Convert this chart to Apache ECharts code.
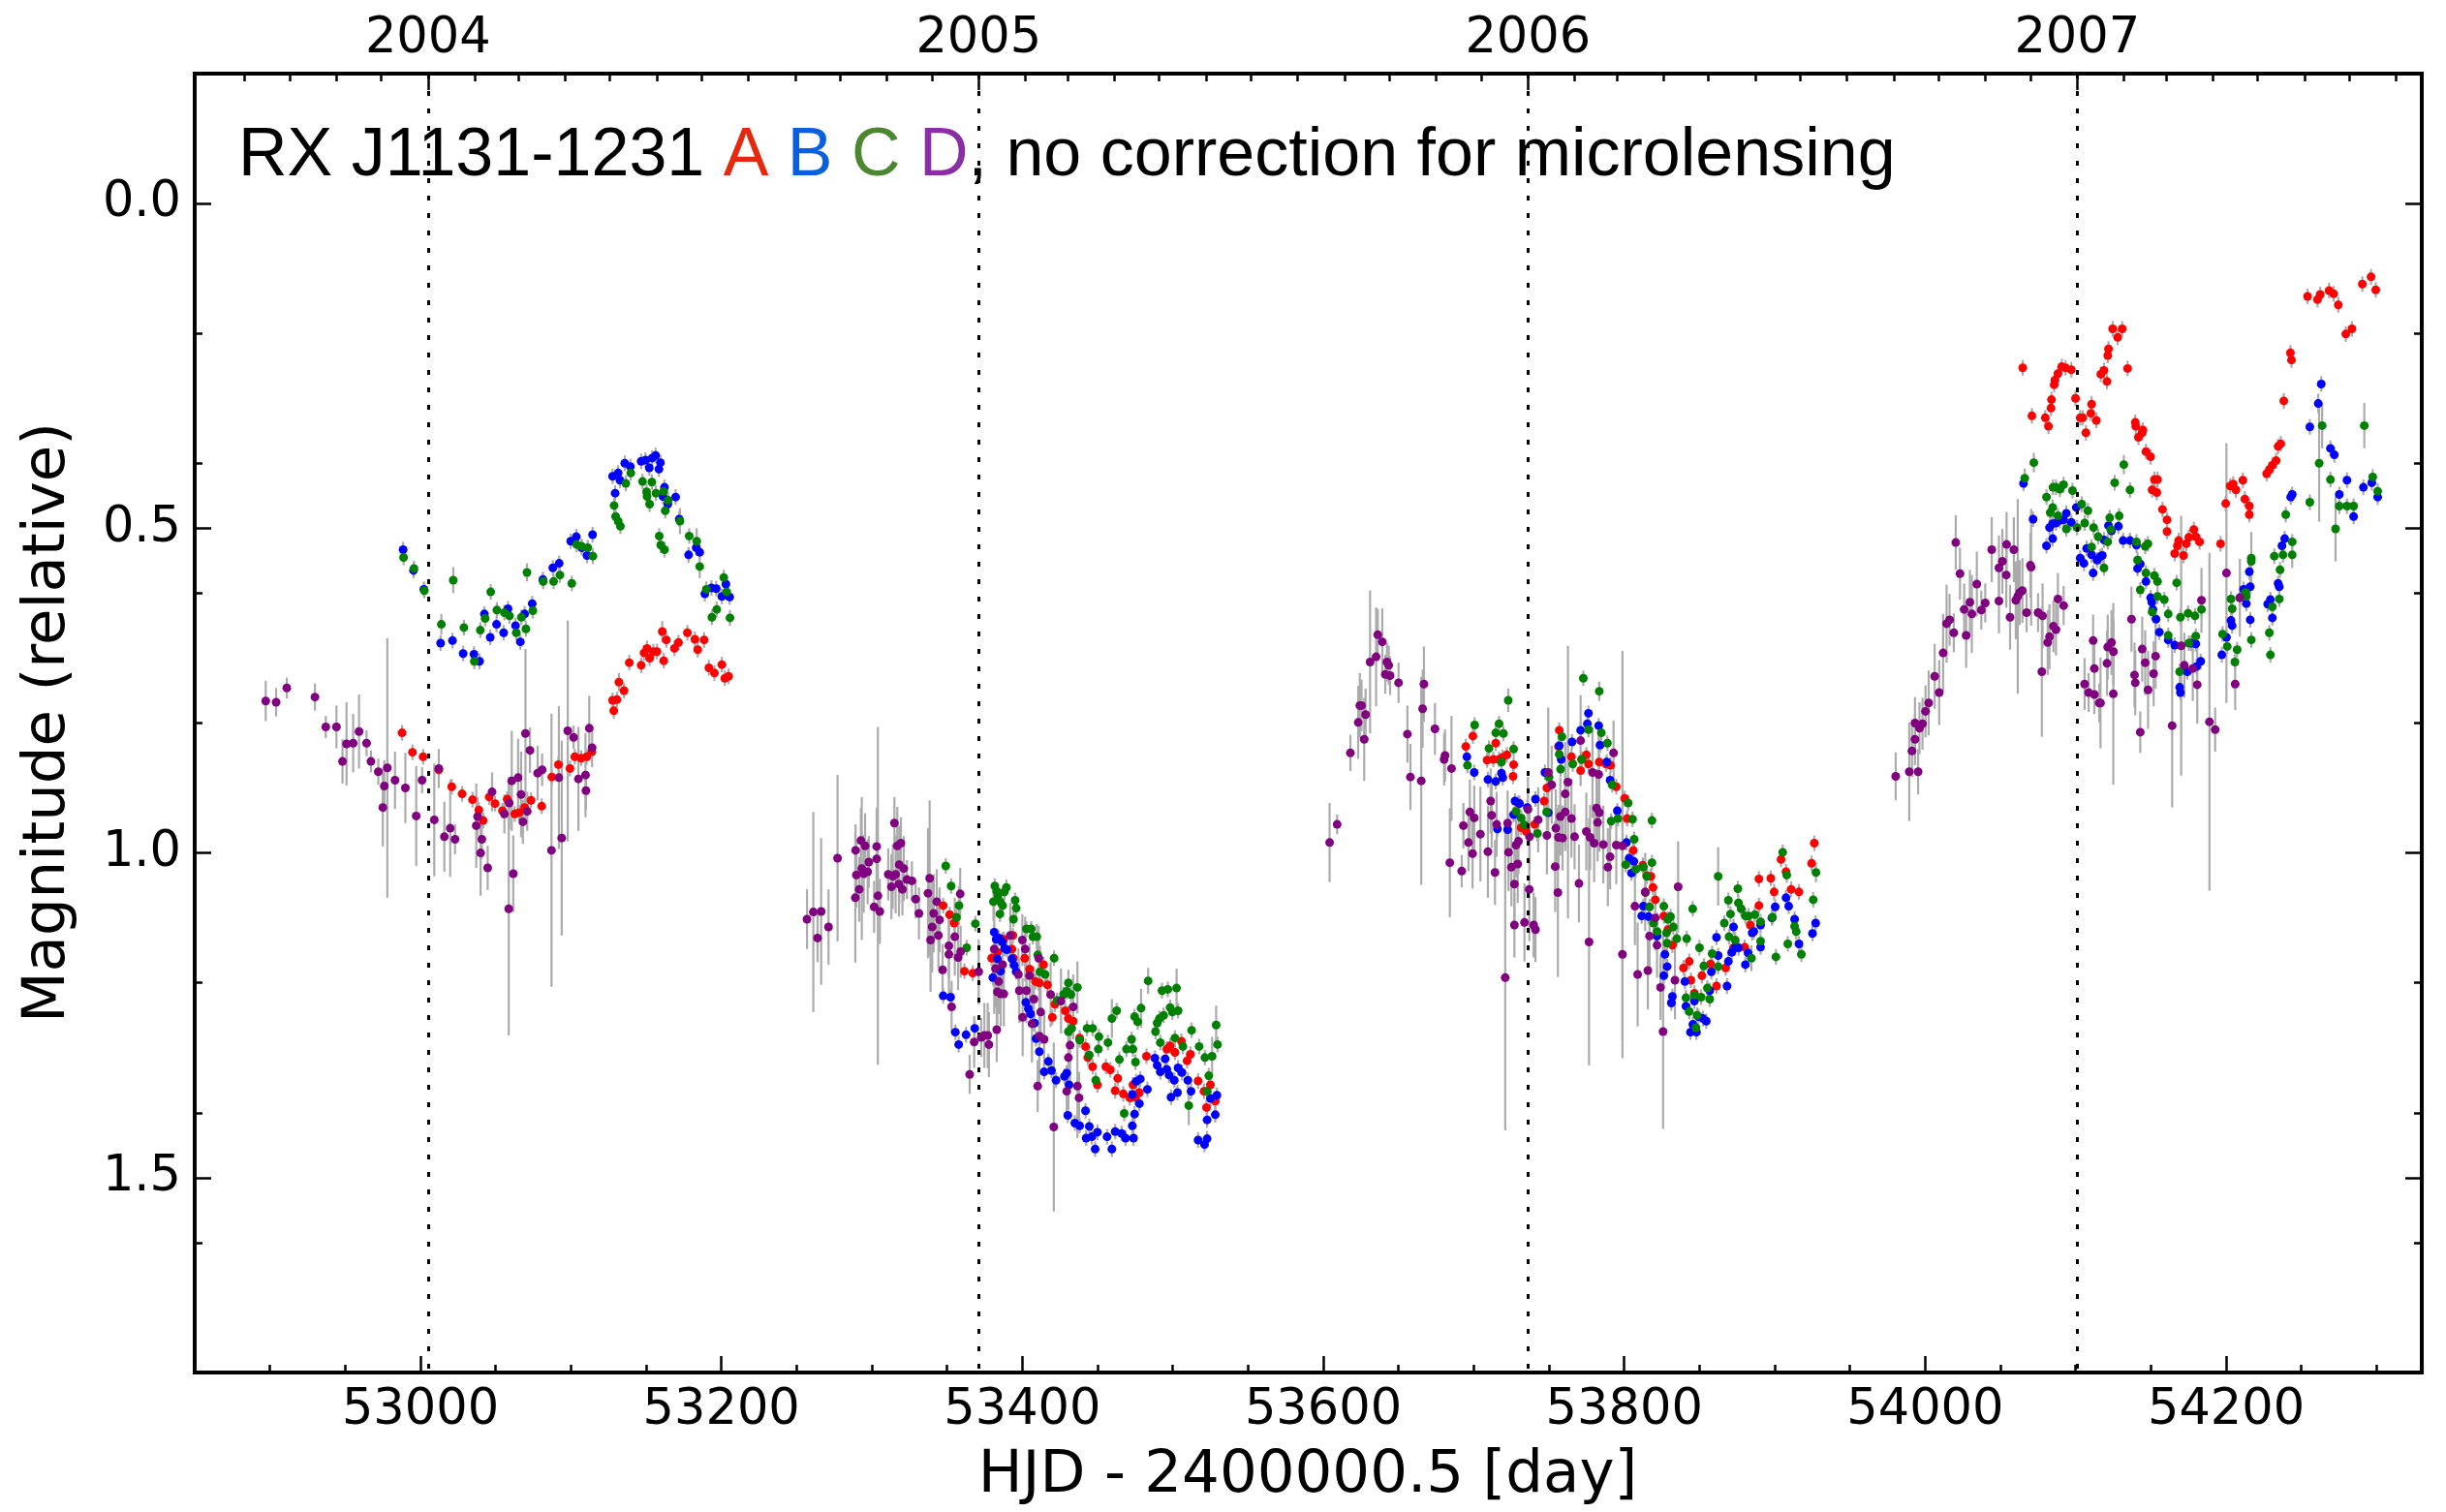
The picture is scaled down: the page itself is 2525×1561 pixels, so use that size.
<!DOCTYPE html>
<html>
<head>
<meta charset="utf-8">
<script src="https://cdn.jsdelivr.net/npm/echarts@6/dist/echarts.min.js"></script>
<style>
  html, body { margin: 0; padding: 0; background: #fff; }
  #chart { width: 2525px; height: 1561px; }
</style>
</head>
<body>
<div id="chart"></div>
<script>
// Light curves of the four quasar images: [HJD - 2400000.5, magnitude, 1-sigma error]
const curveA = [
  [52987.8,0.815,0.012],[52994.7,0.845,0.012],[53001.8,0.852,0.012],[53012.2,0.872,0.012],[53020.8,0.898,0.012],
  [53027.7,0.909,0.012],[53034.6,0.918,0.012],[53038.8,0.934,0.012],[53041.7,0.950,0.012],[53045.7,0.914,0.012],
  [53049.6,0.924,0.012],[53054.5,0.935,0.012],[53057.7,0.917,0.012],[53062.7,0.940,0.012],[53065.6,0.938,0.012],
  [53069.3,0.930,0.012],[53073.5,0.919,0.012],[53080.6,0.928,0.012],[53087.3,0.883,0.012],[53091.7,0.864,0.012],
  [53099.4,0.870,0.012],[53102.6,0.852,0.012],[53106.8,0.854,0.012],[53110.5,0.852,0.012],[53113.9,0.844,0.012],
  [53127.7,0.765,0.012],[53128.5,0.781,0.012],[53130.6,0.764,0.012],[53131.9,0.737,0.014],[53135.3,0.750,0.012],
  [53138.8,0.707,0.012],[53146.7,0.711,0.012],[53148.6,0.692,0.012],[53150.6,0.685,0.012],[53152.3,0.700,0.012],
  [53154.8,0.690,0.012],[53157.2,0.690,0.012],[53160.7,0.659,0.016],[53161.7,0.704,0.012],[53163.4,0.672,0.012],
  [53168.8,0.685,0.012],[53171.5,0.676,0.012],[53177.4,0.661,0.012],[53182.4,0.671,0.012],[53184.3,0.687,0.012],
  [53188.5,0.672,0.012],[53191.7,0.715,0.012],[53195.4,0.723,0.012],[53200.3,0.710,0.012],[53202.3,0.731,0.012],
  [53204.8,0.728,0.012],
  [53347.4,1.081,0.012],[53351.7,1.095,0.012],[53354.7,1.108,0.012],[53361.5,1.182,0.012],[53367.1,1.185,0.012],
  [53379.6,1.162,0.012],[53383.4,1.153,0.012],[53387.7,1.133,0.012],[53393.7,1.127,0.012],[53393.1,1.148,0.012],
  [53394.1,1.162,0.012],[53401.6,1.162,0.012],[53404.8,1.179,0.012],[53408.7,1.198,0.012],[53411.3,1.200,0.012],
  [53414.1,1.172,0.012],[53416.7,1.203,0.012],[53419.9,1.253,0.012],[53421.6,1.233,0.012],[53428.5,1.243,0.012],
  [53430.6,1.255,0.012],[53433.8,1.259,0.012],[53438.1,1.285,0.012],[53442.0,1.298,0.012],[53443.5,1.315,0.012],
  [53446.7,1.329,0.012],[53449.9,1.357,0.012],[53455.5,1.329,0.012],[53458.5,1.334,0.012],[53461.7,1.366,0.012],
  [53463.4,1.347,0.012],[53467.1,1.371,0.012],[53471.4,1.377,0.012],[53473.5,1.357,0.012],[53475.2,1.376,0.012],
  [53477.8,1.369,0.012],[53482.5,1.313,0.012],[53496.0,1.302,0.012],[53498.2,1.297,0.012],[53501.4,1.307,0.012],
  [53505.7,1.290,0.012],[53509.5,1.320,0.012],[53511.7,1.310,0.012],[53516.8,1.351,0.012],[53520.7,1.367,0.012],
  [53522.4,1.392,0.012],[53525.0,1.357,0.012],[53528.2,1.382,0.012],
  [53694.7,0.836,0.012],[53699.4,0.820,0.012],[53708.9,0.857,0.012],[53713.0,0.856,0.012],[53714.6,0.831,0.012],
  [53716.8,0.856,0.012],[53719.1,0.853,0.012],[53722.0,0.849,0.012],[53726.5,0.864,0.012],[53726.1,0.882,0.012],
  [53729.7,0.923,0.012],[53731.5,0.961,0.012],[53734.9,0.967,0.012],[53740.5,0.956,0.012],[53746.8,0.920,0.012],
  [53748.6,0.900,0.012],[53756.8,0.811,0.012],[53756.3,0.836,0.012],[53764.9,0.852,0.012],[53771.0,0.873,0.012],
  [53771.7,0.856,0.012],[53774.8,0.849,0.012],[53776.2,0.863,0.012],[53783.4,0.860,0.012],[53787.9,0.863,0.012],
  [53790.9,0.865,0.012],[53794.7,0.898,0.012],[53800.3,0.916,0.012],[53801.9,0.947,0.012],[53806.0,0.996,0.012],
  [53812.3,1.019,0.012],[53815.0,1.035,0.012],[53817.7,1.036,0.012],[53819.1,1.053,0.012],[53820.6,1.072,0.012],
  [53826.3,1.097,0.012],[53829.0,1.118,0.012],[53832.0,1.142,0.012],[53839.4,1.177,0.012],[53843.2,1.167,0.012],
  [53844.3,1.196,0.012],[53846.6,1.216,0.012],[53851.6,1.189,0.012],[53857.4,1.171,0.012],[53861.3,1.205,0.012],
  [53867.4,1.177,0.012],[53872.6,1.146,0.012],[53880.0,1.145,0.012],[53883.8,1.111,0.012],[53889.5,1.081,0.012],
  [53889.5,1.040,0.012],[53897.4,1.039,0.012],[53899.6,1.060,0.012],[53904.2,1.010,0.012],[53907.5,1.029,0.012],
  [53910.9,1.056,0.012],[53916.1,1.060,0.012],[53924.5,1.016,0.012],[53926.3,0.985,0.012],
  [54064.8,0.253,0.012],[54070.9,0.327,0.012],[54079.8,0.330,0.012],[54081.9,0.343,0.012],[54083.6,0.315,0.012],
  [54083.9,0.302,0.012],[54085.7,0.279,0.012],[54086.2,0.272,0.012],[54088.2,0.262,0.012],[54090.8,0.251,0.012],
  [54093.3,0.253,0.012],[54097.1,0.256,0.012],[54099.9,0.300,0.012],[54103.0,0.330,0.012],[54104.7,0.330,0.012],
  [54106.8,0.353,0.012],[54110.1,0.323,0.012],[54110.6,0.309,0.012],[54113.7,0.334,0.012],[54116.7,0.263,0.012],
  [54118.8,0.257,0.012],[54120.8,0.274,0.012],[54121.3,0.234,0.012],[54121.8,0.224,0.012],[54124.6,0.193,0.012],
  [54127.9,0.206,0.012],[54130.9,0.193,0.012],[54134.5,0.254,0.012],[54139.6,0.337,0.012],[54139.9,0.343,0.012],
  [54141.7,0.360,0.012],[54144.2,0.353,0.012],[54144.7,0.349,0.012],[54146.7,0.382,0.012],[54149.8,0.390,0.012],
  [54152.3,0.425,0.012],[54154.4,0.425,0.012],[54150.8,0.441,0.012],[54153.9,0.445,0.012],[54157.7,0.471,0.012],
  [54160.7,0.487,0.012],[54160.7,0.505,0.012],[54165.8,0.539,0.012],[54167.6,0.527,0.012],[54168.4,0.519,0.012],
  [54171.7,0.542,0.012],[54173.5,0.524,0.012],[54175.2,0.514,0.012],[54178.5,0.502,0.012],[54179.8,0.513,0.012],
  [54182.4,0.521,0.012],[54196.3,0.524,0.012],[54199.7,0.462,0.012],[54202.7,0.435,0.012],[54204.7,0.432,0.012],
  [54206.5,0.441,0.012],[54211.1,0.426,0.012],[54212.4,0.455,0.012],[54215.4,0.466,0.012],[54215.4,0.479,0.012],
  [54226.9,0.416,0.012],[54228.7,0.410,0.012],[54230.7,0.403,0.012],[54233.2,0.396,0.012],[54234.5,0.374,0.012],
  [54236.3,0.370,0.012],[54238.3,0.304,0.012],[54242.7,0.230,0.012],[54243.4,0.241,0.012],[54254.1,0.143,0.012],
  [54260.7,0.148,0.012],[54262.5,0.140,0.012],[54268.4,0.134,0.012],[54271.4,0.139,0.012],[54274.5,0.156,0.012],
  [54279.5,0.201,0.012],[54283.6,0.193,0.012],[54290.5,0.124,0.012],[54296.3,0.113,0.012],[54299.4,0.133,0.012]
];

const curveB = [
  [52988.5,0.533,0.012],[52995.4,0.565,0.012],[53002.3,0.594,0.012],[53013.4,0.677,0.012],[53021.3,0.673,0.012],
  [53028.4,0.693,0.012],[53035.6,0.694,0.012],[53039.3,0.705,0.012],[53042.5,0.632,0.012],[53046.4,0.668,0.012],
  [53050.6,0.648,0.012],[53055.3,0.661,0.012],[53058.2,0.624,0.012],[53063.2,0.650,0.012],[53066.4,0.675,0.012],
  [53069.3,0.632,0.012],[53074.3,0.616,0.012],[53081.4,0.579,0.012],[53088.0,0.561,0.012],[53092.2,0.554,0.012],
  [53099.9,0.520,0.012],[53103.6,0.513,0.012],[53107.2,0.530,0.012],[53110.7,0.542,0.012],[53114.4,0.510,0.012],
  [53127.7,0.420,0.012],[53129.4,0.446,0.012],[53131.4,0.415,0.012],[53132.6,0.426,0.012],[53135.8,0.400,0.012],
  [53139.5,0.405,0.012],[53146.7,0.397,0.012],[53149.6,0.395,0.012],[53152.1,0.407,0.012],[53154.0,0.392,0.012],
  [53156.3,0.388,0.012],[53158.5,0.409,0.012],[53159.5,0.399,0.012],[53161.2,0.451,0.012],[53162.2,0.437,0.012],
  [53164.4,0.463,0.012],[53169.6,0.452,0.012],[53172.0,0.486,0.012],[53178.2,0.541,0.012],[53183.3,0.530,0.012],
  [53185.6,0.537,0.012],[53189.0,0.601,0.012],[53193.4,0.592,0.012],[53196.6,0.593,0.012],[53200.3,0.605,0.012],
  [53203.0,0.586,0.012],[53205.5,0.606,0.012],
  [53347.4,1.220,0.012],[53352.3,1.222,0.012],[53355.5,1.276,0.012],[53357.7,1.295,0.012],[53362.6,1.280,0.012],
  [53368.4,1.270,0.012],[53380.4,1.192,0.012],[53381.3,1.122,0.012],[53382.6,1.133,0.012],[53383.4,1.163,0.012],
  [53384.5,1.131,0.012],[53385.6,1.182,0.012],[53386.7,1.137,0.012],[53388.2,1.147,0.012],[53389.8,1.149,0.012],
  [53393.1,1.163,0.012],[53394.6,1.173,0.012],[53395.9,1.183,0.012],[53402.3,1.230,0.012],[53404.0,1.240,0.012],
  [53405.5,1.248,0.012],[53408.1,1.262,0.012],[53409.1,1.286,0.012],[53411.3,1.306,0.012],[53414.5,1.337,0.012],
  [53417.3,1.321,0.012],[53419.4,1.335,0.012],[53422.4,1.350,0.012],[53428.0,1.344,0.012],[53429.5,1.339,0.012],
  [53430.2,1.404,0.012],[53431.0,1.357,0.012],[53434.9,1.416,0.012],[53438.1,1.420,0.012],[53442.0,1.397,0.012],
  [53442.4,1.439,0.012],[53444.5,1.421,0.012],[53446.2,1.437,0.012],[53448.4,1.456,0.012],[53449.9,1.430,0.012],
  [53456.3,1.437,0.012],[53459.5,1.456,0.012],[53461.7,1.429,0.012],[53466.0,1.432,0.012],[53468.6,1.439,0.012],
  [53473.1,1.420,0.012],[53473.9,1.439,0.012],[53474.6,1.402,0.012],[53473.1,1.372,0.012],[53475.6,1.352,0.012],
  [53478.4,1.348,0.012],[53477.8,1.386,0.012],[53483.1,1.364,0.012],[53488.1,1.316,0.012],[53489.6,1.327,0.012],
  [53491.7,1.337,0.012],[53494.9,1.317,0.012],[53496.0,1.333,0.012],[53497.5,1.342,0.012],[53498.8,1.376,0.012],
  [53501.0,1.350,0.012],[53503.1,1.369,0.012],[53503.5,1.331,0.012],[53506.1,1.338,0.012],[53510.0,1.350,0.012],
  [53512.1,1.367,0.012],[53516.8,1.442,0.012],[53521.1,1.449,0.012],[53522.8,1.440,0.012],[53522.8,1.411,0.012],
  [53525.0,1.378,0.012],[53528.2,1.403,0.012],[53529.3,1.373,0.012],
  [53695.4,0.852,0.012],[53700.3,0.876,0.012],[53709.4,0.887,0.012],[53714.6,0.890,0.012],[53718.4,0.877,0.012],
  [53719.3,0.884,0.012],[53715.7,0.963,0.012],[53722.5,0.964,0.012],[53727.4,0.920,0.012],[53726.5,0.941,0.012],
  [53730.4,0.924,0.012],[53735.6,0.930,0.012],[53741.0,0.917,0.012],[53747.3,0.876,0.012],[53749.5,0.938,0.012],
  [53756.8,0.835,0.012],[53758.1,0.856,0.012],[53765.3,0.829,0.012],[53771.0,0.811,0.012],[53775.5,0.801,0.012],
  [53776.2,0.785,0.012],[53783.0,0.804,0.012],[53783.9,0.834,0.012],[53788.4,0.860,0.012],[53790.6,0.888,0.012],
  [53795.4,0.935,0.012],[53801.5,0.984,0.012],[53803.3,1.008,0.012],[53806.4,1.013,0.012],[53804.8,1.031,0.012],
  [53812.7,1.082,0.012],[53811.6,1.097,0.012],[53816.1,1.098,0.012],[53821.8,1.128,0.012],[53827.0,1.156,0.012],
  [53828.5,1.175,0.012],[53826.3,1.189,0.012],[53832.0,1.221,0.012],[53831.3,1.231,0.012],[53840.3,1.198,0.012],
  [53841.0,1.236,0.012],[53845.6,1.264,0.012],[53844.0,1.276,0.012],[53848.0,1.276,0.012],[53846.6,1.228,0.012],
  [53849.3,1.252,0.012],[53852.3,1.255,0.012],[53854.5,1.259,0.012],[53856.8,1.212,0.012],[53857.9,1.183,0.012],
  [53861.3,1.130,0.012],[53862.4,1.158,0.012],[53868.3,1.205,0.012],[53869.2,1.167,0.012],[53871.4,1.153,0.012],
  [53873.7,1.146,0.012],[53872.6,1.114,0.012],[53876.0,1.146,0.012],[53880.5,1.172,0.012],[53882.3,1.154,0.012],
  [53885.0,1.123,0.012],[53886.1,1.121,0.012],[53890.6,1.111,0.012],[53890.6,1.145,0.012],[53898.1,1.100,0.012],
  [53900.3,1.083,0.012],[53907.5,1.069,0.012],[53909.3,1.082,0.012],[53913.2,1.102,0.012],[53916.1,1.140,0.012],
  [53925.1,1.124,0.012],[53927.2,1.108,0.012],
  [54065.3,0.431,0.012],[54071.7,0.486,0.012],[54080.6,0.527,0.012],[54082.6,0.499,0.012],[54084.7,0.516,0.012],
  [54084.7,0.493,0.012],[54086.9,0.492,0.012],[54089.5,0.488,0.012],[54092.0,0.487,0.012],[54093.8,0.477,0.012],
  [54097.1,0.491,0.012],[54100.4,0.468,0.012],[54103.0,0.546,0.012],[54105.5,0.554,0.012],[54107.3,0.531,0.012],
  [54110.6,0.541,0.012],[54111.6,0.569,0.012],[54114.2,0.549,0.012],[54116.2,0.544,0.012],[54117.7,0.542,0.012],
  [54118.8,0.518,0.012],[54121.8,0.496,0.012],[54123.8,0.504,0.012],[54128.4,0.497,0.012],[54131.5,0.519,0.012],
  [54136.1,0.519,0.012],[54140.4,0.526,0.012],[54141.1,0.562,0.012],[54142.9,0.555,0.012],[54146.7,0.582,0.012],
  [54149.8,0.607,0.012],[54150.6,0.614,0.012],[54151.3,0.625,0.012],[54153.4,0.640,0.012],[54155.6,0.660,0.012],
  [54161.5,0.672,0.012],[54165.8,0.680,0.012],[54169.1,0.745,0.012],[54169.6,0.753,0.012],[54174.2,0.721,0.012],
  [54176.7,0.677,0.012],[54179.8,0.678,0.012],[54180.3,0.713,0.012],[54183.1,0.705,0.012],[54197.1,0.695,0.012],
  [54200.2,0.668,0.012],[54203.2,0.642,0.012],[54204.0,0.650,0.012],[54209.1,0.607,0.012],[54211.6,0.594,0.012],
  [54213.4,0.616,0.012],[54215.4,0.567,0.012],[54216.0,0.590,0.012],[54216.0,0.641,0.012],[54227.6,0.617,0.012],
  [54229.4,0.610,0.012],[54230.7,0.638,0.012],[54234.5,0.585,0.012],[54235.3,0.590,0.012],[54237.1,0.527,0.012],
  [54238.9,0.516,0.012],[54242.9,0.452,0.012],[54243.9,0.448,0.012],[54255.6,0.344,0.012],[54261.2,0.308,0.015],
  [54263.2,0.278,0.012],[54269.3,0.377,0.012],[54271.9,0.387,0.012],[54275.2,0.448,0.012],[54280.3,0.426,0.012],
  [54284.7,0.482,0.012],[54291.2,0.437,0.012],[54296.8,0.430,0.012],[54300.7,0.452,0.012]
];

const curveC = [
  [52988.8,0.545,0.012],[52995.7,0.562,0.012],[53002.6,0.596,0.012],[53013.9,0.648,0.016],[53021.8,0.580,0.020],
  [53028.9,0.653,0.012],[53035.8,0.705,0.012],[53039.8,0.657,0.012],[53043.0,0.639,0.012],[53046.7,0.598,0.012],
  [53050.8,0.626,0.012],[53055.8,0.630,0.012],[53059.2,0.635,0.012],[53063.7,0.661,0.012],[53067.1,0.637,0.012],
  [53070.1,0.655,0.012],[53070.8,0.568,0.014],[53074.7,0.627,0.012],[53081.6,0.582,0.012],[53088.5,0.582,0.012],
  [53092.7,0.572,0.012],[53100.6,0.585,0.012],[53103.8,0.525,0.012],[53107.2,0.528,0.012],[53111.2,0.530,0.012],
  [53114.6,0.543,0.012],[53128.7,0.465,0.012],[53129.7,0.482,0.012],[53131.4,0.489,0.012],[53132.9,0.497,0.012],
  [53136.5,0.431,0.012],[53139.8,0.415,0.012],[53147.6,0.428,0.012],[53150.3,0.444,0.012],[53150.6,0.451,0.012],
  [53152.3,0.463,0.012],[53153.8,0.429,0.012],[53156.5,0.446,0.012],[53158.7,0.512,0.012],[53159.7,0.526,0.012],
  [53161.7,0.443,0.012],[53162.2,0.533,0.012],[53162.7,0.473,0.012],[53164.6,0.457,0.012],[53172.5,0.489,0.020],
  [53178.6,0.512,0.012],[53183.6,0.520,0.020],[53185.6,0.559,0.018],[53190.0,0.594,0.012],[53193.7,0.637,0.012],
  [53196.9,0.625,0.012],[53201.6,0.576,0.012],[53203.5,0.598,0.012],[53205.7,0.638,0.012],
  [53349.1,1.020,0.012],[53352.7,1.051,0.012],[53357.9,1.081,0.03],[53356.2,1.099,0.012],[53363.0,1.146,0.012],
  [53368.8,1.109,0.012],[53380.8,1.075,0.03],[53381.7,1.051,0.012],[53383.0,1.059,0.012],[53383.8,1.066,0.012],
  [53385.1,1.094,0.012],[53385.6,1.076,0.012],[53386.9,1.081,0.012],[53388.1,1.060,0.012],[53389.4,1.053,0.012],
  [53394.1,1.102,0.012],[53395.9,1.085,0.012],[53395.2,1.073,0.012],[53402.7,1.117,0.012],[53405.9,1.117,0.012],
  [53407.0,1.129,0.012],[53409.6,1.129,0.02],[53410.2,1.157,0.012],[53411.7,1.183,0.04],[53415.1,1.187,0.012],
  [53421.1,1.162,0.012],[53423.1,1.227,0.012],[53427.4,1.218,0.012],[53429.5,1.213,0.012],[53430.6,1.200,0.02],
  [53432.3,1.218,0.012],[53436.6,1.207,0.04],[53430.6,1.275,0.012],[53432.8,1.270,0.012],[53438.1,1.288,0.012],
  [53443.0,1.270,0.012],[53446.7,1.270,0.012],[53450.9,1.283,0.012],[53450.5,1.302,0.012],[53444.5,1.311,0.012],
  [53456.9,1.292,0.012],[53459.5,1.255,0.03],[53462.7,1.243,0.012],[53464.5,1.318,0.012],[53467.7,1.401,0.012],
  [53448.8,1.350,0.012],[53469.2,1.302,0.012],[53472.6,1.287,0.012],[53473.5,1.302,0.012],[53474.6,1.252,0.012],
  [53475.2,1.322,0.012],[53476.7,1.260,0.012],[53478.9,1.239,0.03],[53483.6,1.197,0.02],[53488.5,1.275,0.012],
  [53489.6,1.262,0.012],[53491.1,1.255,0.012],[53491.7,1.292,0.012],[53492.8,1.212,0.012],[53493.9,1.250,0.012],
  [53496.7,1.210,0.012],[53498.2,1.238,0.012],[53499.7,1.245,0.012],[53501.4,1.285,0.012],[53502.5,1.208,0.03],
  [53503.5,1.243,0.012],[53506.7,1.298,0.012],[53510.6,1.389,0.03],[53512.5,1.273,0.012],[53517.5,1.298,0.012],
  [53521.3,1.315,0.012],[53523.9,1.343,0.012],[53522.8,1.367,0.012],[53526.1,1.313,0.03],[53528.8,1.265,0.03],
  [53529.7,1.295,0.012],
  [53695.8,0.865,0.012],[53700.6,0.803,0.012],[53710.1,0.839,0.012],[53714.6,0.815,0.012],[53716.8,0.801,0.012],
  [53719.7,0.816,0.012],[53718.4,0.860,0.012],[53722.9,0.765,0.018],[53726.5,0.840,0.012],[53728.1,0.936,0.012],
  [53731.5,0.946,0.012],[53733.7,0.957,0.012],[53742.3,0.970,0.012],[53748.4,0.937,0.012],[53750.0,0.883,0.012],
  [53756.8,0.848,0.012],[53757.7,0.871,0.012],[53758.6,0.821,0.012],[53765.8,0.863,0.012],[53771.7,0.856,0.012],
  [53772.8,0.731,0.012],[53776.2,0.810,0.012],[53783.4,0.751,0.015],[53784.8,0.815,0.012],[53788.8,0.831,0.012],
  [53792.0,0.895,0.012],[53791.3,0.951,0.012],[53795.8,0.947,0.012],[53802.6,0.923,0.012],[53805.5,0.948,0.012],
  [53806.6,0.979,0.012],[53801.0,1.018,0.012],[53807.8,1.025,0.012],[53812.7,1.022,0.012],[53815.0,1.036,0.012],
  [53818.4,1.015,0.012],[53818.4,0.950,0.012],[53814.1,1.061,0.012],[53816.8,1.083,0.012],[53819.5,1.108,0.012],
  [53821.8,1.121,0.012],[53826.3,1.082,0.012],[53828.1,1.123,0.012],[53829.0,1.102,0.012],[53830.8,1.098,0.012],
  [53832.6,1.114,0.012],[53828.5,1.139,0.012],[53834.9,1.132,0.012],[53841.5,1.132,0.012],[53845.5,1.086,0.012],
  [53841.0,1.223,0.012],[53843.2,1.244,0.012],[53846.6,1.219,0.012],[53848.4,1.250,0.012],[53847.7,1.269,0.012],
  [53850.0,1.146,0.012],[53851.1,1.222,0.012],[53852.9,1.174,0.012],[53855.2,1.208,0.012],[53856.8,1.225,0.012],
  [53858.4,1.155,0.012],[53862.4,1.036,0.045],[53862.4,1.175,0.012],[53866.5,1.108,0.012],[53869.2,1.073,0.012],
  [53870.6,1.094,0.012],[53869.6,1.129,0.012],[53873.7,1.134,0.012],[53875.5,1.055,0.012],[53875.9,1.077,0.012],
  [53877.7,1.086,0.012],[53880.5,1.097,0.012],[53882.7,1.097,0.012],[53884.5,1.162,0.02],[53886.8,1.095,0.012],
  [53890.6,1.106,0.012],[53890.6,1.136,0.012],[53898.5,1.099,0.012],[53900.8,1.160,0.012],[53905.3,0.999,0.012],
  [53908.0,1.034,0.012],[53908.7,1.140,0.012],[53913.2,1.113,0.012],[53914.3,1.121,0.012],[53917.7,1.156,0.012],
  [53925.6,1.072,0.012],[53927.4,1.030,0.015],
  [54066.1,0.423,0.015],[54072.2,0.399,0.015],[54080.6,0.452,0.012],[54083.1,0.476,0.012],[54084.7,0.468,0.012],
  [54084.9,0.437,0.012],[54086.9,0.437,0.012],[54088.2,0.481,0.012],[54089.5,0.440,0.012],[54092.0,0.433,0.012],
  [54093.8,0.501,0.012],[54097.9,0.442,0.012],[54100.9,0.499,0.012],[54104.0,0.463,0.012],[54106.0,0.492,0.012],
  [54108.1,0.473,0.012],[54110.6,0.529,0.012],[54111.9,0.499,0.012],[54114.9,0.513,0.012],[54118.8,0.561,0.012],
  [54121.3,0.521,0.012],[54122.6,0.484,0.012],[54123.3,0.502,0.012],[54125.9,0.430,0.012],[54128.9,0.481,0.012],
  [54132.0,0.402,0.015],[54136.1,0.441,0.012],[54140.4,0.521,0.012],[54141.1,0.549,0.012],[54142.9,0.595,0.012],
  [54146.2,0.528,0.012],[54146.7,0.569,0.012],[54148.0,0.524,0.012],[54150.8,0.629,0.012],[54152.3,0.573,0.012],
  [54154.4,0.582,0.012],[54154.4,0.605,0.012],[54158.9,0.610,0.012],[54161.5,0.632,0.012],[54161.5,0.665,0.012],
  [54167.1,0.584,0.012],[54169.1,0.721,0.012],[54169.6,0.637,0.012],[54174.7,0.631,0.012],[54175.2,0.677,0.012],
  [54179.3,0.635,0.012],[54179.8,0.666,0.012],[54183.6,0.625,0.012],[54197.6,0.663,0.012],[54200.7,0.682,0.012],
  [54203.2,0.609,0.012],[54204.0,0.624,0.012],[54205.8,0.706,0.012],[54207.3,0.687,0.012],[54212.9,0.599,0.012],
  [54213.4,0.605,0.012],[54216.7,0.546,0.04],[54216.7,0.551,0.012],[54216.7,0.672,0.012],[54228.7,0.661,0.012],
  [54229.4,0.695,0.012],[54230.7,0.621,0.012],[54232.0,0.543,0.012],[54235.3,0.609,0.012],[54235.8,0.564,0.012],
  [54237.8,0.541,0.012],[54239.6,0.479,0.012],[54243.9,0.521,0.012],[54243.9,0.541,0.02],[54255.6,0.460,0.012],
  [54261.8,0.400,0.09],[54263.8,0.342,0.035],[54269.3,0.425,0.012],[54272.7,0.501,0.05],[54275.2,0.466,0.012],
  [54280.3,0.466,0.012],[54284.7,0.466,0.012],[54291.8,0.342,0.035],[54297.4,0.421,0.012],[54300.7,0.443,0.012]
];

const curveD = [
  [52897.2,0.766,0.031],[52904.1,0.768,0.022],[52911.2,0.746,0.016],[52929.9,0.760,0.021],[52937.1,0.806,0.017],
  [52944.2,0.806,0.033],[52948.2,0.859,0.034],[52950.9,0.832,0.064],[52955.3,0.831,0.045],[52959.2,0.813,0.057],
  [52964.2,0.831,0.020],[52967.1,0.859,0.017],[52972.0,0.875,0.020],[52975.0,0.930,0.060],[52976.0,0.897,0.040],
  [52978.0,0.869,0.200],[52983.1,0.888,0.044],[52990.0,0.900,0.054],[52997.2,0.943,0.077],[53001.1,0.888,0.020],
  [53009.2,0.949,0.087],[53012.2,0.870,0.030],[53015.9,0.975,0.054],[53019.8,0.962,0.075],[53023.0,0.979,0.023],
  [53037.1,0.958,0.065],[53038.0,0.944,0.030],[53040.0,1.000,0.066],[53040.8,0.979,0.030],[53044.7,1.023,0.034],
  [53047.6,0.906,0.030],[53055.8,0.940,0.030],[53058.7,1.086,0.195],[53059.0,0.923,0.040],[53060.7,0.889,0.077],
  [53061.7,1.032,0.059],[53064.9,0.884,0.060],[53066.9,0.910,0.066],[53068.1,0.952,0.034],[53069.8,0.816,0.130],
  [53071.0,0.936,0.030],[53072.8,0.842,0.035],[53077.9,0.877,0.042],[53080.9,0.872,0.025],[53087.1,0.996,0.210],
  [53092.0,0.884,0.110],[53093.9,0.977,0.150],[53097.9,0.812,0.170],[53101.8,0.822,0.018],[53105.0,0.886,0.080],
  [53109.7,0.880,0.065],[53110.0,0.904,0.030],[53112.2,0.808,0.050],[53114.1,0.838,0.030],
  [53256.9,1.102,0.046],[53261.1,1.091,0.154],[53263.9,1.131,0.037],[53266.3,1.090,0.113],[53271.2,1.114,0.058],
  [53277.2,1.008,0.128],[53289.0,1.069,0.100],[53289.2,0.996,0.040],[53289.7,1.034,0.050],[53291.6,1.056,0.050],
  [53292.7,0.981,0.050],[53293.3,1.024,0.110],[53294.6,1.032,0.060],[53295.5,0.989,0.050],[53297.2,1.029,0.050],
  [53298.0,1.014,0.040],[53301.5,1.083,0.040],[53303.2,0.990,0.060],[53303.2,1.009,0.050],[53304.0,1.066,0.260],
  [53305.3,1.090,0.050],[53310.9,1.033,0.040],[53313.0,1.052,0.050],[53313.9,1.036,0.050],[53315.0,0.954,0.040],
  [53315.8,1.033,0.060],[53316.9,0.989,0.060],[53318.0,1.048,0.050],[53318.2,1.018,0.060],[53319.3,0.985,0.040],
  [53320.3,1.056,0.040],[53321.2,1.024,0.050],[53323.3,1.041,0.030],[53326.6,1.043,0.030],[53329.1,1.071,0.030],
  [53331.3,1.093,0.040],[53337.3,1.062,0.100],[53338.4,1.039,0.120],[53339.0,1.134,0.080],[53340.1,1.114,0.070],
  [53341.1,1.093,0.060],[53343.1,1.075,0.050],[53344.2,1.127,0.050],[53345.0,1.103,0.050],[53347.0,1.180,0.040],
  [53351.2,1.143,0.050],[53351.2,1.156,0.060],[53353.0,1.237,0.040],[53355.1,1.129,0.060],[53357.3,1.161,0.050],
  [53358.7,1.063,0.040],[53359.0,1.152,0.040],[53365.0,1.341,0.030],[53368.0,1.291,0.040],[53371.0,1.183,0.050],
  [53372.7,1.284,0.030],[53374.8,1.281,0.050],[53377.0,1.281,0.050],[53377.8,1.295,0.050],[53381.3,1.148,0.100],
  [53382.1,1.178,0.060],[53383.0,1.272,0.050],[53383.4,1.214,0.050],[53384.3,1.198,0.050],[53385.6,1.217,0.050],
  [53386.9,1.172,0.050],[53387.7,1.217,0.050],[53392.0,1.127,0.050],[53397.4,1.187,0.040],[53398.0,1.212,0.050],
  [53400.0,1.134,0.040],[53400.2,1.253,0.060],[53401.9,1.148,0.050],[53402.7,1.212,0.050],[53404.8,1.189,0.050],
  [53406.4,1.263,0.060],[53407.7,1.225,0.050],[53410.2,1.359,0.040],[53410.9,1.162,0.050],[53411.3,1.282,0.080],
  [53412.2,1.245,0.050],[53414.5,1.287,0.040],[53418.8,1.218,0.050],[53420.9,1.422,0.130],[53425.7,1.228,0.050],
  [53429.5,1.367,0.040],[53430.6,1.315,0.080],[53431.7,1.296,0.060],[53433.8,1.237,0.050],[53436.6,1.359,0.080],
  [53437.7,1.377,0.040],
  [53604.2,0.984,0.061],[53609.2,0.956,0.015],[53618.0,0.846,0.028],[53623.2,0.799,0.056],[53624.3,0.773,0.050],
  [53625.4,0.773,0.040],[53627.2,0.825,0.064],[53628.1,0.787,0.040],[53631.1,0.706,0.110],[53635.1,0.698,0.076],
  [53636.2,0.664,0.040],[53639.2,0.675,0.052],[53641.2,0.725,0.030],[53642.3,0.706,0.030],[53643.5,0.711,0.030],
  [53644.4,0.727,0.030],[53650.0,0.738,0.031],[53655.9,0.817,0.044],[53657.9,0.883,0.051],[53665.1,0.889,0.160],
  [53666.0,0.778,0.060],[53666.9,0.740,0.058],[53674.2,0.809,0.040],[53680.3,0.856,0.040],[53680.9,0.850,0.040],
  [53684.1,1.015,0.084],[53685.2,0.870,0.081],[53692.0,1.028,0.025],[53693.1,0.958,0.035],[53696.5,0.984,0.044],
  [53697.4,0.937,0.050],[53699.2,1.001,0.054],[53700.3,0.946,0.050],[53704.4,0.971,0.073],[53709.4,0.998,0.071],
  [53711.2,0.920,0.050],[53711.9,0.942,0.050],[53714.1,1.030,0.050],[53715.2,0.956,0.050],[53720.9,1.192,0.235],
  [53723.1,0.999,0.060],[53722.5,0.954,0.050],[53725.0,1.022,0.060],[53727.0,1.111,0.050],[53727.0,1.048,0.060],
  [53728.1,0.988,0.050],[53729.2,1.017,0.060],[53729.7,0.982,0.050],[53733.7,1.107,0.060],[53736.0,0.933,0.050],
  [53736.9,1.056,0.080],[53737.1,0.975,0.050],[53739.8,1.111,0.050],[53741.0,1.118,0.050],[53742.8,0.949,0.050],
  [53748.6,0.973,0.060],[53749.5,0.876,0.100],[53751.8,0.895,0.060],[53754.1,1.021,0.070],[53754.5,0.962,0.060],
  [53755.9,1.061,0.130],[53756.3,0.976,0.050],[53757.5,0.944,0.060],[53759.0,0.977,0.050],[53760.8,0.909,0.080],
  [53760.8,0.937,0.060],[53762.6,0.891,0.210],[53764.9,0.947,0.060],[53767.0,0.975,0.050],[53769.9,1.047,0.060],
  [53771.0,0.827,0.070],[53774.8,0.967,0.060],[53776.6,1.137,0.190],[53777.3,0.976,0.050],[53778.9,0.876,0.070],
  [53780.0,0.985,0.060],[53781.6,0.931,0.060],[53782.3,0.953,0.060],[53783.0,0.879,0.060],[53783.4,0.938,0.060],
  [53786.1,0.987,0.060],[53789.1,1.022,0.060],[53790.6,1.006,0.050],[53792.9,0.846,0.050],[53794.7,0.988,0.060],
  [53798.8,1.156,0.160],[53798.8,0.989,0.300],[53807.1,1.082,0.060],[53813.9,1.060,0.060],[53816.8,1.128,0.050],
  [53821.8,1.142,0.050],[53820.6,1.100,0.050],[53808.9,1.187,0.080],[53815.7,1.181,0.060],[53824.1,1.207,0.050],
  [53825.8,1.275,0.150],[53833.7,1.196,0.060],[53835.8,1.052,0.070],
  [53980.4,0.882,0.037],[53989.4,0.875,0.076],[53991.2,0.843,0.040],[53993.2,0.825,0.040],[53993.2,0.800,0.040],
  [53995.3,0.875,0.035],[53996.2,0.808,0.040],[53998.2,0.801,0.040],[54000.2,0.782,0.040],[54002.3,0.769,0.050],
  [54006.3,0.728,0.050],[54009.3,0.753,0.050],[54011.9,0.692,0.060],[54014.2,0.647,0.060],[54016.2,0.641,0.040],
  [54019.0,0.661,0.030],[54020.3,0.522,0.042],[54023.1,0.570,0.040],[54025.9,0.625,0.040],[54027.2,0.665,0.050],
  [54029.7,0.614,0.050],[54031.0,0.632,0.060],[54034.3,0.586,0.050],[54037.3,0.626,0.030],[54039.9,0.615,0.030],
  [54044.2,0.533,0.050],[54049.0,0.561,0.050],[54049.0,0.612,0.050],[54051.3,0.551,0.050],[54053.9,0.572,0.050],
  [54054.1,0.525,0.050],[54056.4,0.637,0.050],[54058.9,0.533,0.050],[54060.2,0.611,0.060],[54061.5,0.605,0.150],
  [54062.8,0.599,0.050],[54064.6,0.596,0.050],[54067.4,0.630,0.030],[54069.9,0.557,0.050],[54070.4,0.560,0.090],
  [54075.0,0.630,0.030],[54077.5,0.721,0.100],[54078.0,0.635,0.050],[54081.4,0.676,0.050],[54082.6,0.667,0.050],
  [54085.2,0.651,0.040],[54086.9,0.656,0.040],[54088.2,0.609,0.040],[54092.0,0.619,0.030],[54105.9,0.740,0.040],
  [54108.6,0.753,0.030],[54111.6,0.673,0.040],[54112.4,0.716,0.040],[54112.4,0.756,0.030],[54115.7,0.769,0.030],
  [54116.5,0.769,0.070],[54120.8,0.708,0.050],[54121.3,0.683,0.050],[54123.8,0.676,0.050],[54125.1,0.690,0.050],
  [54125.0,0.755,0.140],[54137.1,0.640,0.050],[54139.1,0.726,0.050],[54139.6,0.738,0.050],[54142.9,0.814,0.032],
  [54144.2,0.686,0.050],[54146.2,0.707,0.050],[54148.1,0.749,0.060],[54151.8,0.724,0.050],[54153.1,0.697,0.050],
  [54164.1,0.804,0.126],[54170.1,0.681,0.200],[54172.2,0.711,0.050],[54177.8,0.716,0.050],[54180.8,0.741,0.060],
  [54183.6,0.611,0.050],[54188.9,0.798,0.260],[54192.7,0.810,0.034],[54200.2,0.569,0.200],[54206.0,0.740,0.040],
  [54209.1,0.607,0.060]
];

// Axis ranges and tick marks
const X_MIN = 52850, X_MAX = 54330;
const Y_MIN = -0.2, Y_MAX = 1.8;
const xMajorTicks = [53000, 53200, 53400, 53600, 53800, 54000, 54200];
const yMajorTicks = [0.0, 0.5, 1.0, 1.5];
const yearsShown = [2004, 2005, 2006, 2007];

// Calendar date (UTC) -> MJD, used for the year axis on top
const mjd = (y, m) => Date.UTC(y, m, 1) / 864e5 + 40587;
const yearTicks = yearsShown.map(y => mjd(y, 0));
const monthTicks = [];
for (let y = 2003; y <= 2007; y++) {
  for (let m = 0; m < 12; m++) {
    const v = mjd(y, m);
    if (v > X_MIN + 2 && v < X_MAX - 2) monthTicks.push(v);
  }
}
const xMinorTicks = [];
for (let v = X_MIN + 50; v < X_MAX; v += 50) xMinorTicks.push(v);
const yMinorTicks = [];
for (let k = 0; k <= 8; k++) yMinorTicks.push(+(k * 0.2).toFixed(1));

const FONT = 'DejaVu Sans';
const TICK = { color: '#000', width: 2.5 };
const MAJOR_LEN = 17, MINOR_LEN = 8;

function xAxisDef(position, ticks, len, labels) {
  return {
    type: 'value', position, min: X_MIN, max: X_MAX, gridIndex: 0,
    axisLine: { show: false, onZero: false }, splitLine: { show: false },
    axisTick: { show: true, inside: true, length: len, customValues: ticks, lineStyle: TICK },
    axisLabel: labels || { show: false }
  };
}
function yAxisDef(position, ticks, len, labels) {
  return {
    type: 'value', position, min: Y_MIN, max: Y_MAX, inverse: true, gridIndex: 0,
    axisLine: { show: false, onZero: false }, splitLine: { show: false },
    axisTick: { show: true, inside: true, length: len, customValues: ticks, lineStyle: TICK },
    axisLabel: labels || { show: false }
  };
}

const labelStyle = { color: '#000', fontFamily: FONT, fontSize: 51 };

const xAxes = [
  xAxisDef('bottom', xMajorTicks, MAJOR_LEN, Object.assign({
    show: true, customValues: xMajorTicks, margin: 14, formatter: v => String(v)
  }, labelStyle)),
  xAxisDef('bottom', xMinorTicks, MINOR_LEN),
  xAxisDef('top', monthTicks, MINOR_LEN),
  xAxisDef('top', yearTicks, MAJOR_LEN, Object.assign({
    show: true, customValues: yearTicks, margin: 10,
    formatter: v => String(yearsShown[yearTicks.findIndex(t => Math.abs(t - v) < 0.5)])
  }, labelStyle))
];
const yAxes = [
  yAxisDef('left', yMajorTicks, MAJOR_LEN, Object.assign({
    show: true, customValues: yMajorTicks, margin: 14, formatter: v => v.toFixed(1)
  }, labelStyle)),
  yAxisDef('left', yMinorTicks, MINOR_LEN),
  yAxisDef('right', yMajorTicks, MAJOR_LEN),
  yAxisDef('right', yMinorTicks, MINOR_LEN)
];

const curves = [
  { name: 'A', data: curveA, color: '#ff0000' },
  { name: 'B', data: curveB, color: '#0000ff' },
  { name: 'C', data: curveC, color: '#008000' },
  { name: 'D', data: curveD, color: '#800080' }
];

function errorBar(params, api) {
  const x = api.value(0), y = api.value(1), e = api.value(2);
  const p1 = api.coord([x, y - e]);
  const p2 = api.coord([x, y + e]);
  return {
    type: 'line',
    shape: { x1: p1[0], y1: p1[1], x2: p2[0], y2: p2[1] },
    style: { stroke: '#ababab', lineWidth: 2.2 }
  };
}

const series = [];
curves.forEach((c, i) => {
  const bars = {
    type: 'custom', name: c.name + ' err', data: c.data, renderItem: errorBar,
    xAxisIndex: 0, yAxisIndex: 0, encode: { x: 0, y: 1 }, z: 1, silent: true, clip: true
  };
  if (i === 0) {
    bars.markLine = {
      silent: true, symbol: 'none', label: { show: false },
      lineStyle: { color: '#000', width: 3, type: [5, 13] },
      data: yearTicks.map(v => ({ xAxis: v }))
    };
  }
  series.push(bars);
});
curves.forEach((c, i) => {
  series.push({
    type: 'scatter', name: c.name, data: c.data, xAxisIndex: 0, yAxisIndex: 0,
    encode: { x: 0, y: 1 }, symbol: 'circle', symbolSize: 9,
    itemStyle: { color: c.color, opacity: 1 }, z: 2 + i, silent: true
  });
});

const richBase = { fontFamily: 'Liberation Sans', fontSize: 70, fontWeight: 'normal', lineHeight: 80 };
const titleRich = {
  k: Object.assign({ color: '#000' }, richBase),
  a: Object.assign({ color: '#e5290f' }, richBase),
  b: Object.assign({ color: '#0a5fde' }, richBase),
  c: Object.assign({ color: '#4c8631' }, richBase),
  d: Object.assign({ color: '#8a2ea6' }, richBase)
};

const chart = echarts.init(document.getElementById('chart'), null, { renderer: 'canvas' });
chart.setOption({
  animation: false,
  backgroundColor: '#fff',
  title: {
    text: '{k|RX J1131-1231 }{a|A}{k| }{b|B}{k| }{c|C}{k| }{d|D}{k|, no correction for microlensing}',
    left: 246, top: 122, padding: 0,
    textStyle: { rich: titleRich, fontFamily: 'Liberation Sans', fontSize: 70, fontWeight: 'normal' }
  },
  grid: { left: 201, right: 25, top: 76, bottom: 144, show: true, borderColor: '#000', borderWidth: 4, backgroundColor: 'transparent' },
  xAxis: xAxes,
  yAxis: yAxes,
  series,
  graphic: [
    { type: 'text', x: 1350, y: 1524, z: 10,
      style: { text: 'HJD - 2400000.5 [day]', font: '61px "DejaVu Sans"', fill: '#000', textAlign: 'center', textVerticalAlign: 'middle' } },
    { type: 'text', x: 50, y: 746, rotation: Math.PI / 2, z: 10,
      style: { text: 'Magnitude (relative)', font: '61px "DejaVu Sans"', fill: '#000', textAlign: 'center', textVerticalAlign: 'middle' } }
  ]
});
</script>
</body>
</html>
